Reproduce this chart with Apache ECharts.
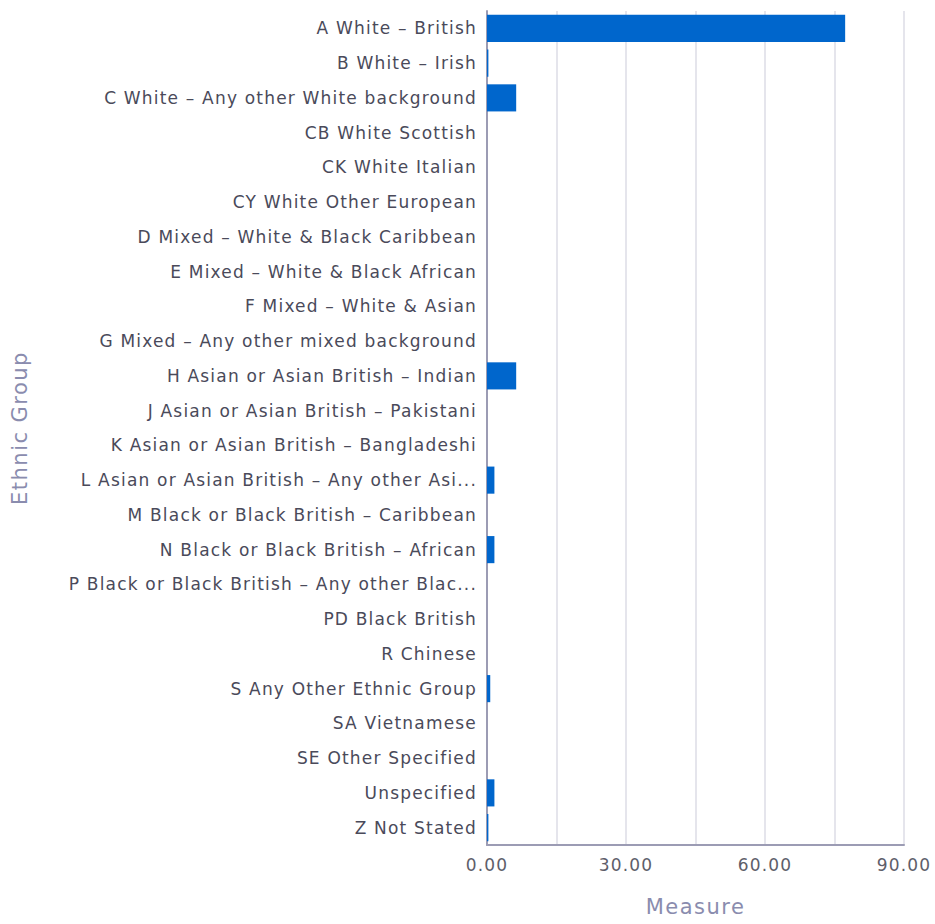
<!DOCTYPE html>
<html>
<head>
<meta charset="utf-8">
<script src="https://cdn.jsdelivr.net/npm/echarts@6/dist/echarts.min.js"></script>
<style>
  html, body { margin: 0; padding: 0; background: #ffffff; }
  #chart { width: 935px; height: 924px; }
  /* slightly tracked-out lettering for all chart text */
  #chart text { letter-spacing: 0.07em; }
</style>
</head>
<body>
<div id="chart"></div>
<script>
// Ethnic group categories, listed top to bottom
const categories = [
  'A White – British',
  'B White – Irish',
  'C White – Any other White background',
  'CB White Scottish',
  'CK White Italian',
  'CY White Other European',
  'D Mixed – White & Black Caribbean',
  'E Mixed – White & Black African',
  'F Mixed – White & Asian',
  'G Mixed – Any other mixed background',
  'H Asian or Asian British – Indian',
  'J Asian or Asian British – Pakistani',
  'K Asian or Asian British – Bangladeshi',
  'L Asian or Asian British – Any other Asi...',
  'M Black or Black British – Caribbean',
  'N Black or Black British – African',
  'P Black or Black British – Any other Blac...',
  'PD Black British',
  'R Chinese',
  'S Any Other Ethnic Group',
  'SA Vietnamese',
  'SE Other Specified',
  'Unspecified',
  'Z Not Stated'
];

// Measure per group (%)
const measure = [
  77.3, 0.3, 6.3, 0, 0, 0, 0, 0, 0, 0,
  6.3, 0, 0, 1.6, 0, 1.6, 0, 0, 0, 0.7,
  0, 0, 1.6, 0.3
];

// Labelled ticks on the measure axis
const xTicks = [0, 30, 60, 90];

const FONT = 'DejaVu Sans';

const chart = echarts.init(document.getElementById('chart'), null, { renderer: 'svg' });
chart.setOption({
  animation: false,
  backgroundColor: '#ffffff',
  grid: { left: 487, right: 31, top: 11, bottom: 79, containLabel: false },
  xAxis: {
    type: 'value',
    min: xTicks[0],
    max: xTicks[xTicks.length - 1],
    interval: xTicks[1] - xTicks[0],
    name: 'Measure',
    nameLocation: 'middle',
    nameGap: 51,
    nameTextStyle: { color: '#8a8cae', fontSize: 21, fontFamily: FONT },
    axisLine: { show: true, lineStyle: { color: '#9c9cb4', width: 2 } },
    axisTick: { show: false },
    axisLabel: {
      color: '#5e5e6a', fontSize: 17, fontFamily: FONT, margin: 11,
      formatter: v => v.toFixed(2)
    },
    splitLine: { show: true, lineStyle: { color: '#dcdce6', width: 1.5 } },
    minorTick: { show: false, splitNumber: 2 },
    minorSplitLine: { show: true, lineStyle: { color: '#dcdce6', width: 1.5 } }
  },
  yAxis: {
    type: 'category',
    data: categories,
    inverse: true,
    name: 'Ethnic Group',
    nameLocation: 'middle',
    nameGap: 457,
    nameRotate: 90,
    nameTextStyle: { color: '#8a8cae', fontSize: 21, fontFamily: FONT },
    axisLine: { show: true, lineStyle: { color: '#9c9cb4', width: 2 } },
    axisTick: { show: false },
    axisLabel: { color: '#4a4a5a', fontSize: 17, fontFamily: FONT, margin: 10 },
    splitLine: { show: false }
  },
  series: [{
    type: 'bar',
    data: measure,
    barCategoryGap: '22%',
    itemStyle: { color: '#0066cc' }
  }]
});
</script>
</body>
</html>
